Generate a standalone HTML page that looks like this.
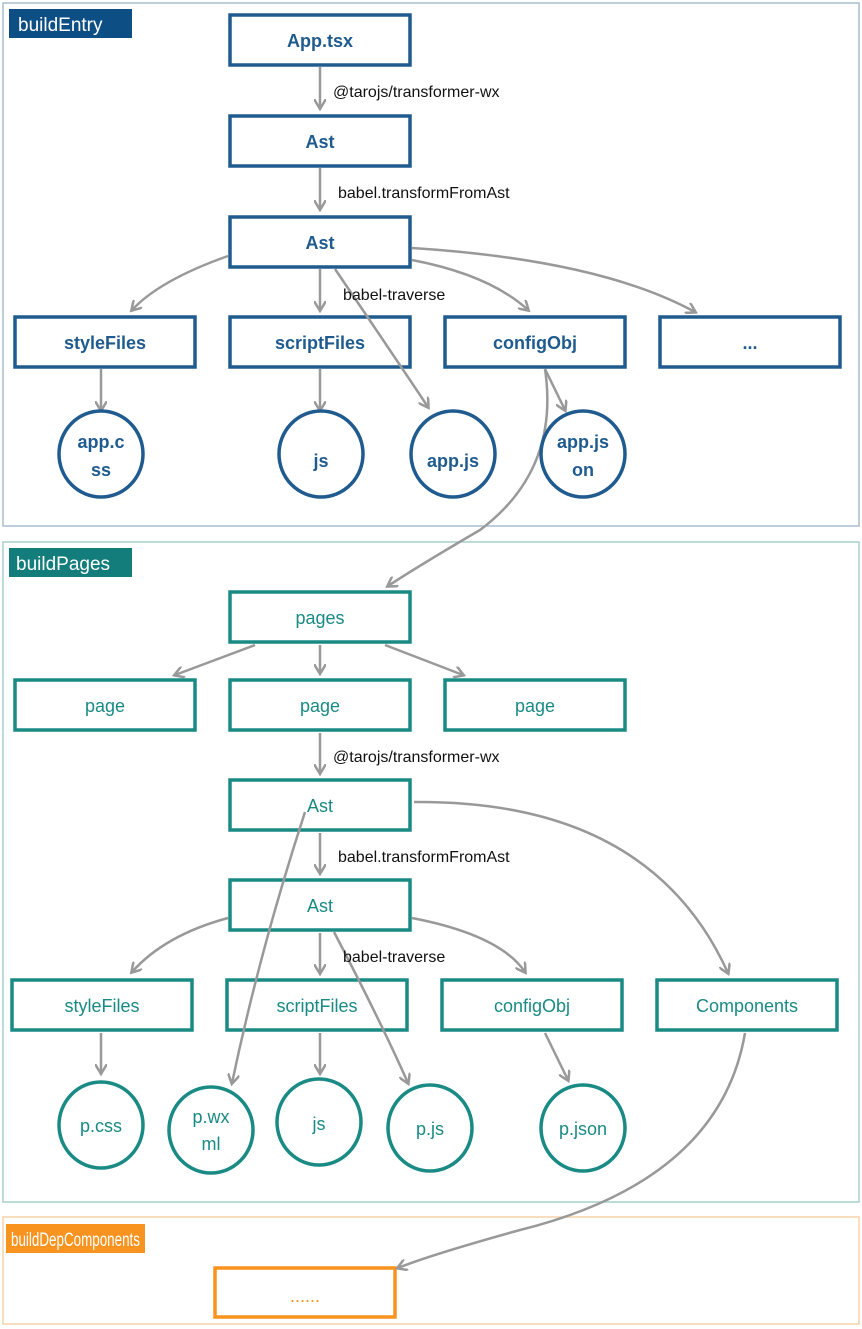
<!DOCTYPE html>
<html><head><meta charset="utf-8"><style>
html,body{margin:0;padding:0;background:#fff;width:862px;height:1329px;overflow:hidden}
svg{display:block}
text{font-family:"Liberation Sans",Arial,sans-serif}
.b rect,.b ellipse{fill:#fff;stroke:#1f5b8f;stroke-width:3.5}
.b text{fill:#1f5b8f;font-size:18px;font-weight:bold;text-anchor:middle}
.t rect,.t ellipse{fill:#fff;stroke:#1a8a84;stroke-width:3.5}
.t text{fill:#1a8a84;font-size:18px;text-anchor:middle}
.a{fill:none;stroke:#999;stroke-width:2.5;marker-end:url(#ar)}
.l{font-size:16px;fill:#111}
</style></head><body>
<svg width="862" height="1329" viewBox="0 0 862 1329">
<defs><marker id="ar" markerWidth="12" markerHeight="12" refX="9" refY="6" orient="auto" markerUnits="userSpaceOnUse"><path d="M0,0 L10,6 L0,12" fill="none" stroke="#999" stroke-width="2.5"/></marker></defs>
<rect x="3" y="3" width="856" height="523" fill="none" stroke="#a9bfcf" stroke-width="1.5"/>
<rect x="9" y="9" width="123" height="29" fill="#0d4f85"/>
<text x="18" y="31" font-size="19" fill="#fff">buildEntry</text>
<rect x="3" y="542" width="856" height="660" fill="none" stroke="#a8cfcd" stroke-width="1.5"/>
<rect x="9" y="548" width="123" height="29" fill="#137d7b"/>
<text x="16" y="570" font-size="19" fill="#fff">buildPages</text>
<rect x="3" y="1217" width="856" height="107" fill="none" stroke="#f6d2a8" stroke-width="1.5"/>
<rect x="6" y="1224" width="139" height="29" fill="#f7931e"/>
<text x="11" y="1246" font-size="19" fill="#fff" textLength="129" lengthAdjust="spacingAndGlyphs">buildDepComponents</text>
<rect x="215" y="1268" width="180" height="49" fill="#fff" stroke="#f7931e" stroke-width="3.5"/>
<text x="305" y="1302" font-size="18" fill="#f7931e" text-anchor="middle">......</text>

<!-- arrows section 1 -->
<path class="a" d="M320,67 V108"/>
<path class="a" d="M320,168 V209"/>
<path class="a" d="M320,269 V310"/>
<path class="a" d="M228,256 Q160,280 132,310"/>
<path class="a" d="M412,260 Q490,275 528,310"/>
<path class="a" d="M412,248 Q600,260 695,312"/>
<path class="a" d="M101,369 V410"/>
<path class="a" d="M320,369 V410"/>
<path class="a" d="M545,369 L565,410"/>
<path class="a" d="M545,369 Q560,470 480,530 Q420,565 388,586"/>
<!-- section 2 -->
<path class="a" d="M255,645 L175,675"/>
<path class="a" d="M320,645 V673"/>
<path class="a" d="M385,645 L463,675"/>
<path class="a" d="M320,733 V773"/>
<path class="a" d="M320,833 V873"/>
<path class="a" d="M228,918 Q165,935 132,972"/>
<path class="a" d="M320,933 V973"/>
<path class="a" d="M412,918 Q500,935 525,972"/>
<path class="a" d="M414,802 Q650,800 728,973"/>
<path class="a" d="M101,1033 V1073"/>
<path class="a" d="M320,1033 V1073"/>
<path class="a" d="M545,1033 L568,1080"/>
<path class="a" d="M745,1033 Q720,1180 520,1230 Q430,1255 398,1268"/>

<g class="b">
<rect x="230" y="15" width="180" height="50"/><text x="320" y="47">App.tsx</text>
<rect x="230" y="116" width="180" height="50"/><text x="320" y="148">Ast</text>
<rect x="230" y="217" width="180" height="50"/><text x="320" y="249">Ast</text>
<rect x="15" y="317" width="180" height="50"/><text x="105" y="349">styleFiles</text>
<rect x="230" y="317" width="180" height="50"/><text x="320" y="349">scriptFiles</text>
<rect x="445" y="317" width="180" height="50"/><text x="535" y="349">configObj</text>
<rect x="660" y="317" width="180" height="50"/><text x="750" y="349">...</text>
<ellipse cx="101" cy="454" rx="42" ry="43"/><text x="101" y="448">app.c</text><text x="101" y="476">ss</text>
<ellipse cx="321" cy="454" rx="42" ry="43"/><text x="321" y="467">js</text>
<ellipse cx="453" cy="454" rx="42" ry="43"/><text x="453" y="467">app.js</text>
<ellipse cx="583" cy="454" rx="42" ry="43"/><text x="583" y="448">app.js</text><text x="583" y="476">on</text>
</g>
<g class="t">
<rect x="230" y="592" width="180" height="50"/><text x="320" y="624">pages</text>
<rect x="15" y="680" width="180" height="50"/><text x="105" y="712">page</text>
<rect x="230" y="680" width="180" height="50"/><text x="320" y="712">page</text>
<rect x="445" y="680" width="180" height="50"/><text x="535" y="712">page</text>
<rect x="230" y="780" width="180" height="50"/><text x="320" y="812">Ast</text>
<rect x="230" y="880" width="180" height="50"/><text x="320" y="912">Ast</text>
<rect x="12" y="980" width="180" height="50"/><text x="102" y="1012">styleFiles</text>
<rect x="227" y="980" width="180" height="50"/><text x="317" y="1012">scriptFiles</text>
<rect x="442" y="980" width="180" height="50"/><text x="532" y="1012">configObj</text>
<rect x="657" y="980" width="180" height="50"/><text x="747" y="1012">Components</text>
<ellipse cx="101" cy="1125" rx="42" ry="43"/><text x="101" y="1132">p.css</text>
<ellipse cx="211" cy="1130" rx="42" ry="43"/><text x="211" y="1123">p.wx</text><text x="211" y="1150">ml</text>
<ellipse cx="319" cy="1122" rx="42" ry="43"/><text x="319" y="1130">js</text>
<ellipse cx="430" cy="1128" rx="42" ry="43"/><text x="430" y="1135">p.js</text>
<ellipse cx="583" cy="1128" rx="42" ry="43"/><text x="583" y="1135">p.json</text>
</g>
<path class="a" d="M335,269 Q390,350 428,407"/>
<path class="a" d="M305,812 Q260,950 232,1083"/>
<path class="a" d="M334,932 Q380,1020 408,1083"/>

<text class="l" x="333" y="97">@tarojs/transformer-wx</text>
<text class="l" x="338" y="198">babel.transformFromAst</text>
<text class="l" x="343" y="300">babel-traverse</text>
<text class="l" x="333" y="762">@tarojs/transformer-wx</text>
<text class="l" x="338" y="862">babel.transformFromAst</text>
<text class="l" x="343" y="962">babel-traverse</text>
</svg>
</body></html>
